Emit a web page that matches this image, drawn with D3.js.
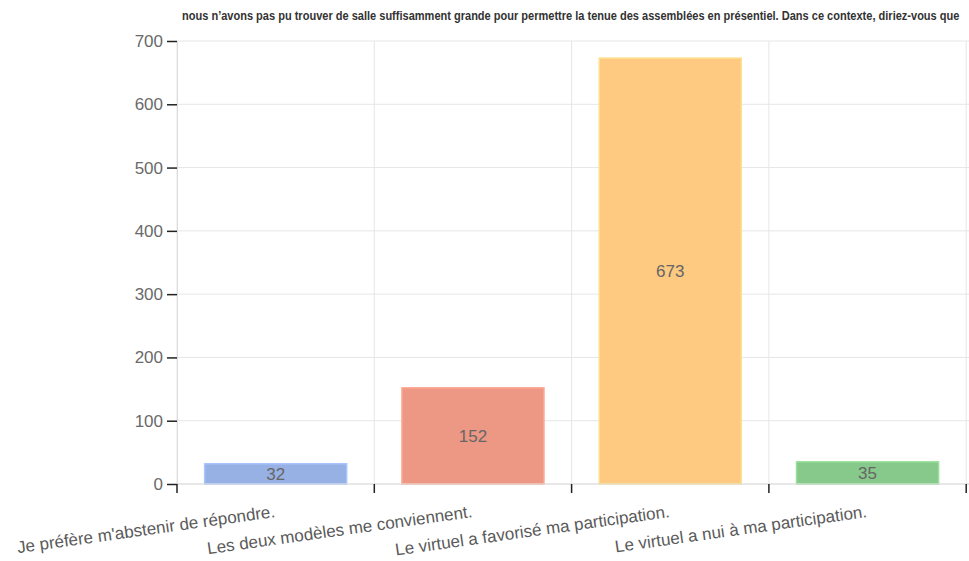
<!DOCTYPE html>
<html><head><meta charset="utf-8">
<script src="https://cdn.jsdelivr.net/npm/d3@7"></script>
<style>
html,body{margin:0;padding:0;background:#fff;overflow:hidden;}
text{font-family:"Liberation Sans",Arial,sans-serif;}
</style></head>
<body>
<svg id="chart" width="969" height="561"></svg>
<script>
const categories = ["Je préfère m'abstenir de répondre.","Les deux modèles me conviennent.","Le virtuel a favorisé ma participation.","Le virtuel a nui à ma participation."];
const values = [32, 152, 673, 35];
const colors = ["#97b1e4","#ec9885","#fec980","#87c98a"];
const yTicks = [0,100,200,300,400,500,600,700];
const titleText = "nous n’avons pas pu trouver de salle suffisamment grande pour permettre la tenue des assemblées en présentiel. Dans ce contexte, diriez-vous que";

const svg = d3.select("#chart");
const m = {left:177, right:3, top:41, bottom:77};
const W = 969, H = 561;
const x = d3.scaleBand().domain(categories).range([m.left, m.left + 4*197.3]).paddingInner(0.28).paddingOuter(0.14);
const y = d3.scaleLinear().domain([0,700]).range([H - m.bottom, m.top]);

// title (condensed by horizontal scaling to fit)
const title = svg.append("text").attr("font-size",13).attr("font-weight","bold")
  .attr("fill","#333").text(titleText);
const natW = title.node().getComputedTextLength();
title.attr("transform",`translate(182,20) scale(${778/natW},1)`);

// horizontal grid
svg.append("g").selectAll("line").data(yTicks).join("line")
  .attr("x1",m.left).attr("x2",W).attr("y1",d=>y(d)).attr("y2",d=>y(d))
  .attr("stroke","#e6e6e6").attr("stroke-width",1);
// vertical grid at band boundaries
const bounds = categories.map((c,i)=> m.left + i*x.step()).concat([m.left + 4*x.step()]);
svg.append("g").selectAll("line").data(bounds).join("line")
  .attr("x1",d=>d).attr("x2",d=>d).attr("y1",y(700)).attr("y2",y(0))
  .attr("stroke","#e6e6e6").attr("stroke-width",1);

// bars
svg.append("g").selectAll("rect").data(values).join("rect")
  .attr("x",(d,i)=>x(categories[i])).attr("width",x.bandwidth())
  .attr("y",d=>y(d)).attr("height",d=>y(0)-y(d))
  .attr("fill",(d,i)=>colors[i]).attr("stroke",(d,i)=>d3.color(colors[i]).brighter(0.3)).attr("stroke-width",1.5);

// value labels
svg.append("g").selectAll("text").data(values).join("text")
  .attr("x",(d,i)=>x(categories[i])+x.bandwidth()/2).attr("y",d=>(y(d)+y(0))/2)
  .attr("dy","0.35em").attr("text-anchor","middle").attr("font-size",17).attr("fill","#666").text(d=>d);

// y axis
const yAxis = svg.append("g").attr("transform",`translate(${m.left},0)`)
  .call(d3.axisLeft(y).tickValues(yTicks).tickSize(10).tickPadding(4));
yAxis.select(".domain").attr("stroke","#dcdcdc");
yAxis.selectAll(".tick line").attr("stroke","#222").attr("stroke-width",1.5);
yAxis.selectAll(".tick text").attr("font-size",17).attr("fill","#6a6a6a").attr("font-family","Liberation Sans, Arial, sans-serif");

// x axis
const xAxis = svg.append("g").attr("transform",`translate(0,${y(0)})`);
xAxis.append("line").attr("x1",m.left).attr("x2",W).attr("stroke","#dcdcdc");
xAxis.selectAll("line.t").data(bounds).join("line").attr("class","t")
  .attr("x1",d=>d).attr("x2",d=>d).attr("y1",0).attr("y2",9).attr("stroke","#222").attr("stroke-width",1.5);
xAxis.selectAll("text").data(categories).join("text")
  .attr("transform",c=>`translate(${x(c)+x.bandwidth()/2},${33}) rotate(-8)`)
  .attr("text-anchor","end").attr("font-size",17).attr("fill","#5a5a5a").text(c=>c);
</script>
</body></html>
